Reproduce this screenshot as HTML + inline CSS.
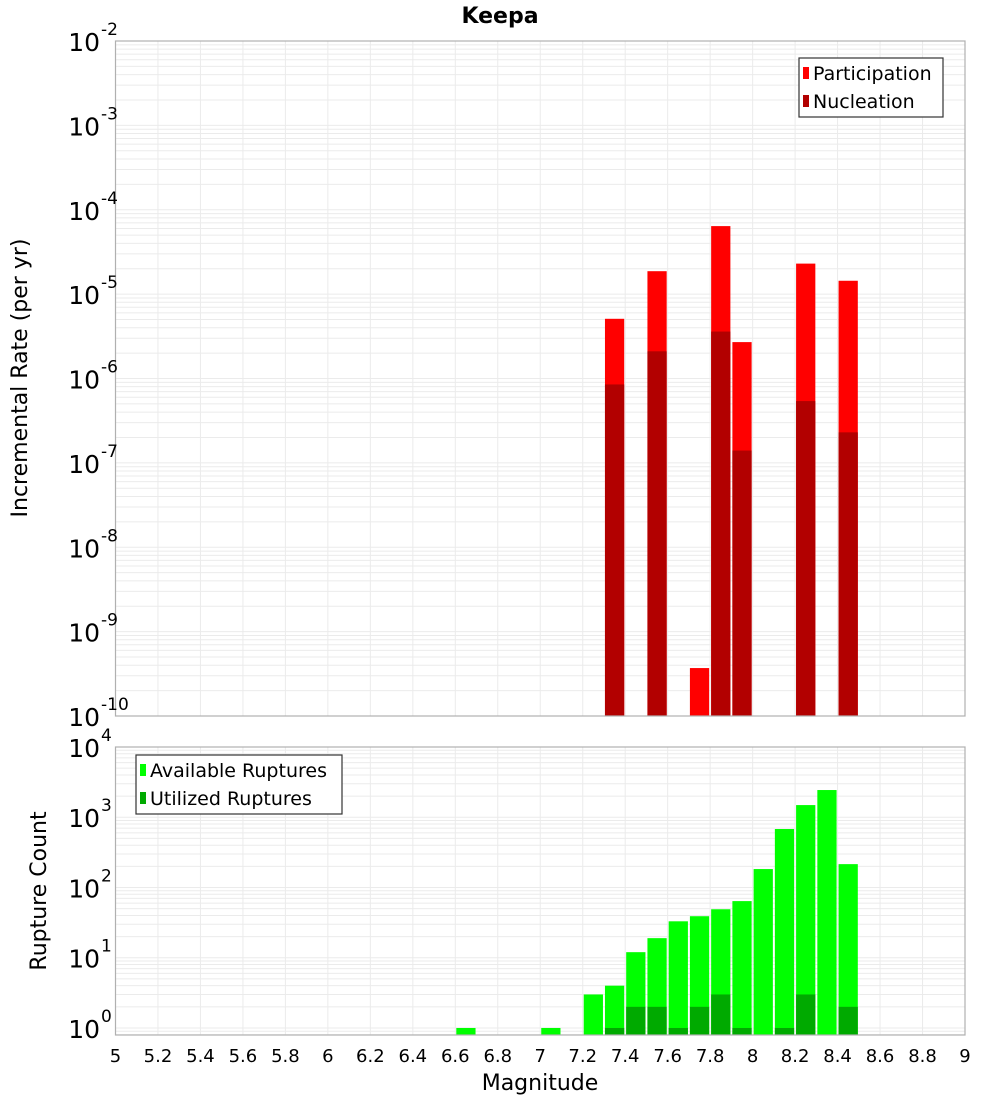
<!DOCTYPE html>
<html><head><meta charset="utf-8"><style>
html,body{margin:0;padding:0;background:#fff;}
svg{display:block;font-family:"DejaVu Sans","Liberation Sans",sans-serif;}
</style></head><body>
<svg id="chart" width="1000" height="1100" viewBox="0 0 1000 1100" xmlns="http://www.w3.org/2000/svg">
<text x="500" y="23" text-anchor="middle" font-size="22" font-weight="bold">Keepa</text>
<g id="top"></g>
<g id="bot"></g>
<text transform="translate(27,378) rotate(-90)" text-anchor="middle" font-size="22">Incremental Rate (per yr)</text>
<text transform="translate(46,891) rotate(-90)" text-anchor="middle" font-size="22">Rupture Count</text>
<text x="540" y="1090" text-anchor="middle" font-size="22">Magnitude</text>
</svg>
<script>
const rateMags = [7.35, 7.55, 7.75, 7.85, 7.95, 8.25, 8.45];
const participation = [5.1e-6, 1.87e-5, 3.7e-10, 6.4e-5, 2.7e-6, 2.3e-5, 1.44e-5];
const nucleation = [8.5e-7, 2.1e-6, 0, 3.6e-6, 1.4e-7, 5.4e-7, 2.3e-7];
const countMags = [6.65, 7.05, 7.25, 7.35, 7.45, 7.55, 7.65, 7.75, 7.85, 7.95, 8.05, 8.15, 8.25, 8.35, 8.45];
const available = [1, 1, 3, 4, 12, 19, 33, 39, 49, 64, 183, 680, 1490, 2440, 215];
const utilized = [0, 0, 0, 1, 2, 2, 1, 2, 3, 1, 0, 1, 3, 0, 2];
const xTicks = [5,5.2,5.4,5.6,5.8,6,6.2,6.4,6.6,6.8,7,7.2,7.4,7.6,7.8,8,8.2,8.4,8.6,8.8,9];
const topExps = [-2,-3,-4,-5,-6,-7,-8,-9,-10];
const botExps = [4,3,2,1,0];

const NS = "http://www.w3.org/2000/svg";
const X0 = 115.5, X1 = 965, XMIN = 5, XMAX = 9;
const x = m => X0 + (m - XMIN) / (XMAX - XMIN) * (X1 - X0);
const bw = x(5.1) - x(5) - 2;
function el(parent, tag, attrs, text) {
  const e = document.createElementNS(NS, tag);
  for (const k in attrs) e.setAttribute(k, attrs[k]);
  if (text !== undefined) e.textContent = text;
  parent.appendChild(e);
  return e;
}
function panel(g, top, bottom, yOf, expMin, expMax, logMin) {
  const frame = el(g, 'rect', {x: X0, y: top, width: X1 - X0, height: bottom - top, fill: '#fff'});
  
  
  for (let e = Math.floor(logMin); e < expMax; e++) {
    for (let k = 1; k < 10; k++) {
      const lv = e + Math.log10(k);
      if (lv < logMin || lv > expMax) continue;
      const yy = yOf(Math.pow(10, lv));
      const gl = el(g, 'line', {x1: X0, x2: X1, y1: yy, y2: yy, stroke: '#ebebeb', 'stroke-width': 1});
      
      
    }
  }
  xTicks.forEach(t => {
    const gl = el(g, 'line', {x1: x(t), x2: x(t), y1: top, y2: bottom, stroke: '#ebebeb', 'stroke-width': 1});
    
    
  });
}
function frameRect(g, top, bottom) {
  const f = el(g, 'rect', {x: X0, y: top, width: X1 - X0, height: bottom - top, fill: 'none', stroke: '#b0b0b0', 'stroke-width': 1.2});
  
  
}
function expLabel(g, yy, e, name) {
  const t = el(g, 'text', {x: 100, y: yy + 10, 'text-anchor': 'end', 'font-size': 25});
  t.textContent = '10';
  
  
  const s = el(g, 'text', {x: 101, y: yy - 6, 'font-size': 17}, String(e));
  
  
}
function legend(g, bx, by, w, items) {
  const r = el(g, 'rect', {x: bx, y: by, width: w, height: 59, fill: '#fff', stroke: '#333', 'stroke-width': 1.2});
  
  
  items.forEach((it, i) => {
    const yy = by + 15 + i * 28;
    const sw = el(g, 'rect', {x: bx + 4, y: yy - 6, width: 6, height: 12, fill: it[1]});
    
    
    const t = el(g, 'text', {x: bx + 14, y: yy + 7, 'font-size': 19}, it[0]);
    
    
  });
}

// Top panel
const T0 = 41, T1 = 716, TMAX = -2, TMIN = -10;
const yT = v => T0 + (TMAX - Math.log10(v)) / (TMAX - TMIN) * (T1 - T0);
const gt = document.getElementById('top');
panel(gt, T0, T1, yT, TMIN, TMAX, TMIN);
rateMags.forEach((m, i) => {
  const p = participation[i];
  if (p > 0) {
    const yy = Math.max(T0, yT(p));
    const b = el(gt, 'rect', {x: x(m) - bw / 2, y: yy, width: bw, height: T1 - yy, fill: '#ff0000'});
    
    
  }
  const n = nucleation[i];
  if (n > 0) {
    const yy = Math.max(T0, yT(n));
    const b = el(gt, 'rect', {x: x(m) - bw / 2, y: yy, width: bw, height: T1 - yy, fill: '#b20000'});
    
    
  }
});
frameRect(gt, T0, T1);
topExps.forEach(e => expLabel(gt, yT(Math.pow(10, e)), e, 'top-y-tick-label'));
legend(gt, 799, 58, 144, [['Participation', '#ff0000'], ['Nucleation', '#b20000']]);

// Bottom panel
const B0 = 747, B1 = 1035, BMAX = 4, BMIN = -0.1;
const yB = v => B0 + (BMAX - Math.log10(v)) / (BMAX - BMIN) * (B1 - B0);
const gb = document.getElementById('bot');
panel(gb, B0, B1, yB, BMIN, BMAX, BMIN);
countMags.forEach((m, i) => {
  const a = available[i];
  if (a > 0) {
    const yy = yB(a);
    const b = el(gb, 'rect', {x: x(m) - bw / 2, y: yy, width: bw, height: B1 - yy, fill: '#00ff00'});
    
    
  }
  const u = utilized[i];
  if (u > 0) {
    const yy = yB(u);
    const b = el(gb, 'rect', {x: x(m) - bw / 2, y: yy, width: bw, height: B1 - yy, fill: '#00aa00'});
    
    
  }
});
frameRect(gb, B0, B1);
botExps.forEach(e => expLabel(gb, yB(Math.pow(10, e)), e, 'bottom-y-tick-label'));
legend(gb, 136, 755, 206, [['Available Ruptures', '#00ff00'], ['Utilized Ruptures', '#00aa00']]);
xTicks.forEach(t => {
  const lb = el(gb, 'text', {x: x(t), y: 1062, 'text-anchor': 'middle', 'font-size': 18}, String(t));
  
  
});
</script>
</body></html>
